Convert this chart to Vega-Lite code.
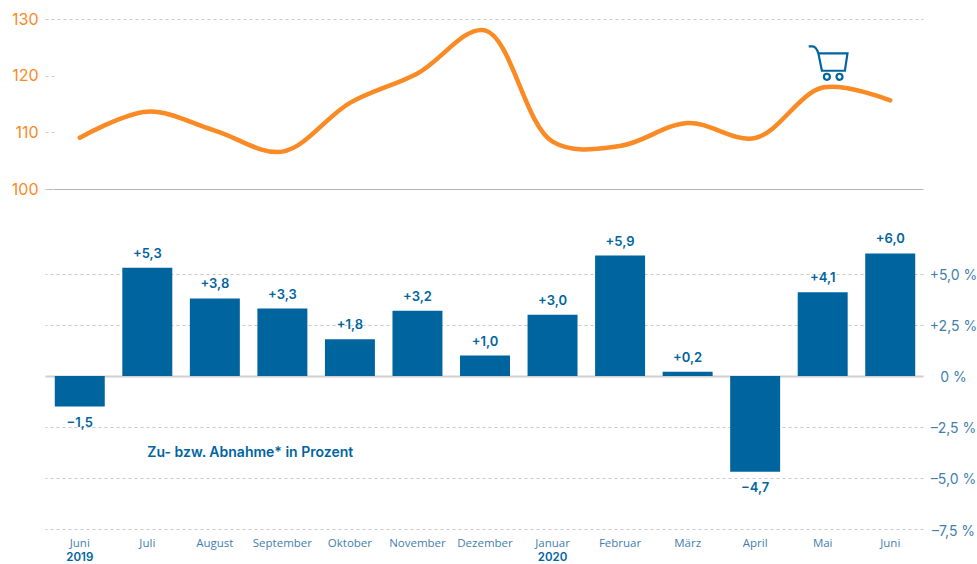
{
"$schema":"https://vega.github.io/schema/vega-lite/v6.json",
"padding":{"left":11,"top":11,"right":0,"bottom":0},
"background":"white",
"spacing":32,
"config":{"view":{"stroke":null},"concat":{"spacing":32}},
"datasets":{
"rows":[
{"monat":"Juni 2019","index":109.05,"veraenderung":-1.5,"label":"−1,5"},
{"monat":"Juli","index":113.65,"veraenderung":5.3,"label":"+5,3"},
{"monat":"August","index":110.3,"veraenderung":3.8,"label":"+3,8"},
{"monat":"September","index":106.6,"veraenderung":3.3,"label":"+3,3"},
{"monat":"Oktober","index":115.2,"veraenderung":1.8,"label":"+1,8"},
{"monat":"November","index":120.4,"veraenderung":3.2,"label":"+3,2"},
{"monat":"Dezember","index":128.0,"veraenderung":1.0,"label":"+1,0"},
{"monat":"Januar","index":108.35,"veraenderung":3.0,"label":"+3,0"},
{"monat":"Februar","index":107.6,"veraenderung":5.9,"label":"+5,9"},
{"monat":"März","index":111.65,"veraenderung":0.2,"label":"+0,2"},
{"monat":"April","index":109.0,"veraenderung":-4.7,"label":"−4,7"},
{"monat":"Mai","index":117.9,"veraenderung":4.1,"label":"+4,1"},
{"monat":"Juni","index":115.65,"veraenderung":6.0,"label":"+6,0"}
]},
"vconcat":[
{"width":878,"height":170,
"encoding":{"x":{"field":"monat","type":"nominal","sort":null,"axis":null,"scale":{"type":"band","domain":["Juni 2019","Juli","August","September","Oktober","November","Dezember","Januar","Februar","März","April","Mai","Juni"],"paddingInner":0.26,"paddingOuter":0.13,"align":0.557}}},
"layer":[
{"data":{"name":"rows"},
"mark":{"type":"line","color":"#f98a24","strokeWidth":4.5,"strokeCap":"round","interpolate":"catmull-rom"},
"encoding":{
"y":{"field":"index","type":"quantitative","scale":{"domain":[100,130],"nice":false,"zero":false},
"axis":{"title":null,"values":[100,110,120,130],"domain":false,"orient":"left",
"labelColor":"#f98a24","labelFont":"Inter","labelFontSize":16,"labelFontWeight":400,"labelPadding":16,
"tickSize":-9,"tickColor":"#c8c8c8","tickDash":[3,3],"tickWidth":1,
"grid":true,"gridColor":{"condition":{"test":"datum.value==100","value":"#b5b5b5"},"value":"#c8c8c8"},
"gridDash":{"condition":{"test":"datum.value==100","value":[]},"value":[3,3]},
"gridOpacity":{"condition":{"test":"datum.value==100||datum.value==130","value":1},"value":0}}}}},
{"data":{"values":[{"monat":"Mai","wert":122.1}]},
"mark":{"type":"point","shape":"M-0.974,-0.887 L-0.769,-0.887 Q-0.6,-0.887 -0.476,-0.528 L-0.297,0.359 L0.882,0.359 L1.015,-0.528 L-0.476,-0.528 M0.113,0.667 A0.154,0.154 0 1 1 -0.195,0.667 A0.154,0.154 0 1 1 0.113,0.667 M0.759,0.667 A0.154,0.154 0 1 1 0.451,0.667 A0.154,0.154 0 1 1 0.759,0.667","size":1521,"filled":false,"stroke":"#00649f","strokeWidth":2.2,"opacity":1,"xOffset":5},
"encoding":{
"y":{"field":"wert","type":"quantitative"}}}
]},
{"width":878,"height":300,
"encoding":{"x":{"field":"monat","type":"nominal","sort":null,"title":null,
"scale":{"domain":["Juni 2019","Juli","August","September","Oktober","November","Dezember","Januar","Februar","März","April","Mai","Juni"],"paddingInner":0.26,"paddingOuter":0.13,"align":0.557},
"axis":{"labelExpr":"split(datum.label,' ')[0]","labelAngle":0,"ticks":false,"domain":false,"labelPadding":8,"labelFont":"Open Sans","labelFontSize":11.5,"labelColor":"#3f80ae","title":null}}},
"layer":[
{"data":{"name":"rows"},
"mark":{"type":"bar","color":"#00649f"},
"encoding":{"y":{"field":"veraenderung","type":"quantitative","scale":{"domain":[-7.5,7.2],"nice":false},
"axis":{"title":null,"orient":"right","values":[-7.5,-5,-2.5,0,2.5,5],"domain":false,"ticks":false,
"labelExpr":"(datum.value>0?'+':datum.value<0?'–':'')+(datum.value==0?'0':replace(format(abs(datum.value),'.1f'),'.',','))+' %'",
"labelAlign":"center","labelPadding":30,"labelOffset":2,"labelFont":"Inter","labelFontSize":14,"labelColor":"#3f80ae",
"grid":true,"gridColor":{"condition":{"test":"datum.value==0","value":"#cfcfcf"},"value":"#c8c8c8"},
"gridDash":{"condition":{"test":"datum.value==0","value":[]},"value":[3,3]},
"gridWidth":{"condition":{"test":"datum.value==0","value":2},"value":1}}}}},
{"data":{"name":"rows"},"transform":[{"filter":"datum.veraenderung>=0"}],
"mark":{"type":"text","dy":-14,"font":"Inter","fontSize":13,"fontWeight":600,"color":"#00649f"},
"encoding":{"y":{"field":"veraenderung","type":"quantitative"},"text":{"field":"label"}}},
{"data":{"name":"rows"},"transform":[{"filter":"datum.veraenderung<0"}],
"mark":{"type":"text","dy":16,"font":"Inter","fontSize":13,"fontWeight":600,"color":"#00649f"},
"encoding":{"y":{"field":"veraenderung","type":"quantitative"},"text":{"field":"label"}}},
{"data":{"values":[{"monat":"Juli","wert":-3.78,"text":"Zu- bzw. Abnahme* in Prozent"}]},
"mark":{"type":"text","align":"left","font":"Inter","fontSize":14,"fontWeight":600,"color":"#00649f"},
"encoding":{"y":{"field":"wert","type":"quantitative"},"text":{"field":"text"}}},
{"data":{"values":[{"monat":"Juni 2019","wert":-7.5,"jahr":"2019"},{"monat":"Januar","wert":-7.5,"jahr":"2020"}]},
"mark":{"type":"text","dy":29,"font":"Inter","fontSize":11.5,"fontWeight":600,"color":"#00649f"},
"encoding":{"y":{"field":"wert","type":"quantitative"},"text":{"field":"jahr"}}}
]}
]}
